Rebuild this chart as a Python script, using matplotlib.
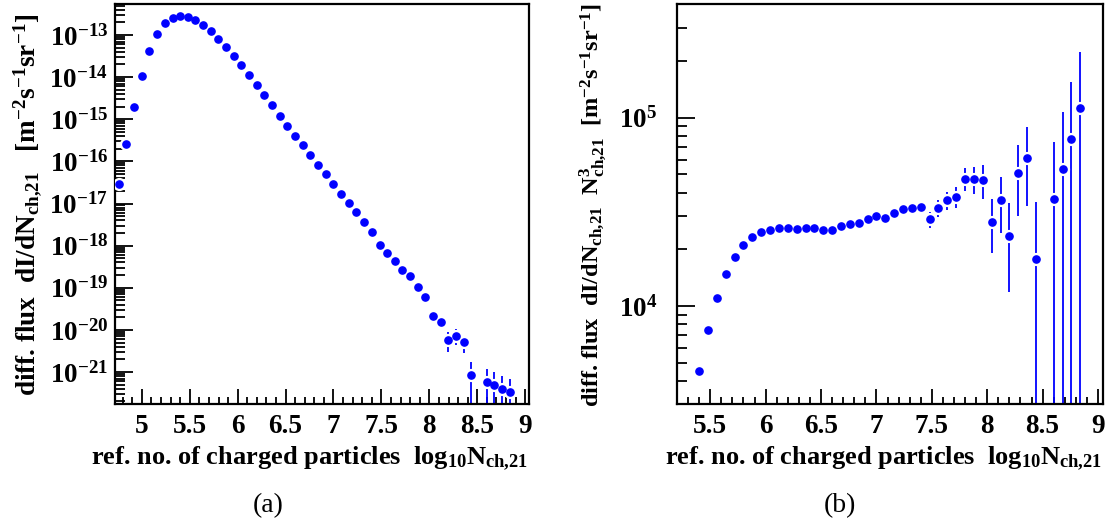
import numpy as np
import matplotlib
matplotlib.use("Agg")
import matplotlib.pyplot as plt
from matplotlib.ticker import (LogLocator, MultipleLocator, FormatStrFormatter,
                               NullFormatter, FixedLocator, LogFormatterSciNotation)

plt.rcParams['font.family'] = 'Liberation Serif'
plt.rcParams['font.weight'] = 'bold'
plt.rcParams['mathtext.fontset'] = 'custom'
plt.rcParams['mathtext.rm'] = 'Liberation Serif:bold'
plt.rcParams['mathtext.bf'] = 'Liberation Serif:bold'
plt.rcParams['mathtext.it'] = 'Liberation Serif:bold'
plt.rcParams['mathtext.default'] = 'bf'

# log10 of reference number of charged particles (bin centres)
logN = [4.76, 4.84, 4.92, 5.00, 5.08, 5.16, 5.24, 5.32, 5.40, 5.48,
        5.56, 5.64, 5.72, 5.80, 5.88, 5.96, 6.04, 6.12, 6.20, 6.28,
        6.36, 6.44, 6.52, 6.60, 6.68, 6.76, 6.84, 6.92, 7.00, 7.08,
        7.16, 7.24, 7.32, 7.40, 7.48, 7.56, 7.64, 7.72, 7.80, 7.88,
        7.96, 8.04, 8.12, 8.20, 8.28, 8.36, 8.44, 8.52, 8.60, 8.68,
        8.76, 8.84]

# (a) differential flux dI/dN  [m^-2 s^-1 sr^-1]
flux = [2.86e-17, 2.54e-16, 1.95e-15, 1.08e-14, 4.24e-14, 1.07e-13, 1.90e-13, 2.58e-13, 2.87e-13, 2.72e-13,
        2.27e-13, 1.73e-13, 1.24e-13, 8.17e-14, 5.27e-14, 3.23e-14, 1.94e-14, 1.12e-14, 6.50e-15, 3.71e-15,
        2.14e-15, 1.21e-15, 6.92e-16, 4.00e-16, 2.41e-16, 1.42e-16, 8.34e-17, 5.09e-17, 2.98e-17, 1.68e-17,
        1.03e-17, 6.18e-18, 3.64e-18, 2.07e-18, 1.04e-18, 6.79e-19, 4.32e-19, 2.59e-19, 1.87e-19, 1.06e-19,
        6.14e-20, 2.10e-20, 1.56e-20, 5.85e-21, 7.28e-21, 5.07e-21, 8.49e-22, np.nan, 5.89e-22, 4.91e-22,
        4.01e-22, 3.35e-22]

# relative statistical error of each bin
rel_err = [0.005, 0.005, 0.005, 0.005, 0.005, 0.005, 0.005, 0.005, 0.005, 0.005,
           0.005, 0.005, 0.005, 0.006, 0.007, 0.008, 0.009, 0.010, 0.011, 0.012,
           0.013, 0.014, 0.015, 0.017, 0.019, 0.021, 0.024, 0.027, 0.030, 0.034,
           0.038, 0.043, 0.050, 0.060, 0.099, 0.104, 0.112, 0.125, 0.135, 0.167,
           0.202, 0.315, 0.330, 0.496, 0.409, 0.449, 1.01, np.nan, 1.0, 1.0,
           1.01, 1.0]

# (b) flux multiplied by N^3, starts at log10 N = 5.40
logN_b = logN[8:]
flux_n3 = [4530, 7480, 10990, 14720, 18160, 21090, 23330, 24600, 25350, 26060,
           26060, 25640, 25940, 25880, 25470, 25470, 26550, 27230, 27670, 28970,
           29920, 29310, 31050, 32730, 33270, 33570, 28840, 33110, 36390, 37930,
           47430, 47100, 46670, 28050, 36560, 23440, 50820, 61380, 17700, np.nan,
           36980, 53460, 77090, 112200]
rel_err_b = rel_err[8:]

yticks_a = [1e-21, 1e-20, 1e-19, 1e-18, 1e-17, 1e-16, 1e-15, 1e-14, 1e-13]
yticks_b = [1e4, 1e5]

ylab_a = r'diff. flux  dI/dN$_{ch{,}21}$   [m$^{-2}$s$^{-1}$sr$^{-1}$]'
ylab_b = r'diff. flux  dI/dN$_{ch{,}21}$  N$_{ch{,}21}^{3}$  [m$^{-2}$s$^{-1}$sr$^{-1}$]'
xlab = r'ref. no. of charged particles  log$_{10}$N$_{ch{,}21}$'

W, H = 1109, 527
fig = plt.figure(figsize=(W / 100, H / 100), dpi=100)
ax_a = fig.add_axes([115 / W, 1 - 404 / H, 414 / W, 400 / H])
ax_b = fig.add_axes([677 / W, 1 - 404 / H, 426 / W, 400 / H])


def draw(ax, x, y, rel):
    x = np.array(x, dtype=float)
    y = np.array(y, dtype=float)
    err = y * np.array(rel, dtype=float)
    ok = ~np.isnan(y)
    ax.errorbar(x[ok], y[ok], yerr=err[ok], fmt='none', ecolor='#0000ff',
                elinewidth=1.3, capsize=0, zorder=2)
    # white halo gives the gap around the marker
    ax.plot(x[ok], y[ok], 'o', ms=8.5, mfc='white', mec='white', zorder=3)
    ax.plot(x[ok], y[ok], 'o', ms=5.2, mfc='#0000ff', mec='#0000ff', zorder=4)


def style(ax, xmin, xmax, ymin, ymax, yticks, ypad):
    ax.set_yscale('log')
    ax.set_xlim(xmin, xmax)
    ax.set_ylim(ymin, ymax)
    ax.xaxis.set_major_locator(MultipleLocator(0.5))
    ax.xaxis.set_minor_locator(MultipleLocator(0.1))
    ax.xaxis.set_major_formatter(FormatStrFormatter('%g'))
    ax.yaxis.set_major_locator(FixedLocator(yticks))
    ax.yaxis.set_major_formatter(LogFormatterSciNotation())
    ax.yaxis.set_minor_locator(LogLocator(base=10, subs=np.arange(2, 10), numticks=200))
    ax.yaxis.set_minor_formatter(NullFormatter())
    ax.tick_params(which='both', direction='in', top=False, right=False, width=1.3)
    ax.tick_params(axis='x', which='major', length=11, pad=7, labelsize=19.5)
    ax.tick_params(axis='x', which='minor', length=5)
    ax.tick_params(axis='y', which='major', length=13, pad=ypad, labelsize=19.5)
    ax.tick_params(axis='y', which='minor', length=7)
    for s in ax.spines.values():
        s.set_linewidth(1.6)


draw(ax_a, logN, flux, rel_err)
style(ax_a, 4.72, 9.04, 1.74e-22, 5.45e-13, yticks_a, 5)

draw(ax_b, logN_b, flux_n3, rel_err_b)
style(ax_b, 5.20, 9.045, 3017, 4.02e5, yticks_b, 14)

fig.text(28 / W, 1 - 205 / H, ylab_a, rotation=90, ha='center', va='center', fontsize=19.5)
fig.text(593 / W, 1 - 205 / H, ylab_b, rotation=90, ha='center', va='center', fontsize=17.5)
fig.text(528 / W, 1 - 465 / H, xlab, ha='right', va='baseline', fontsize=19)
fig.text(1102 / W, 1 - 465 / H, xlab, ha='right', va='baseline', fontsize=19)
fig.text(268 / W, 1 - 512 / H, '(a)', ha='center', va='baseline', fontsize=20, fontweight='normal')
fig.text(840 / W, 1 - 512 / H, '(b)', ha='center', va='baseline', fontsize=20, fontweight='normal')

fig.savefig('out.png', dpi=100)
